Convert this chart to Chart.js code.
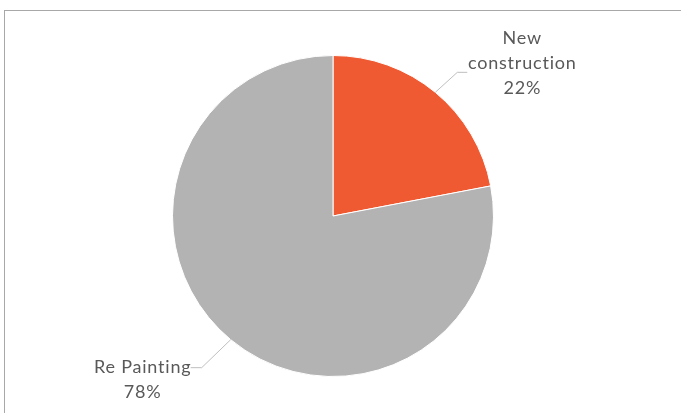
<!DOCTYPE html>
<html>
<head>
<meta charset="utf-8">
<script src="https://cdn.jsdelivr.net/npm/chart.js@4.4.1/dist/chart.umd.min.js"></script>
<style>
  html, body { margin: 0; padding: 0; background: #fff; overflow: hidden; }
  #wrap { position: relative; width: 681px; height: 413px; }
  #frame { position: absolute; left: 4px; top: 10px; width: 700px; height: 440px; border: 1px solid #a8a8a8; box-sizing: border-box; }
  #grafico { position: absolute; left: 0; top: 0; }
</style>
</head>
<body>
<div id="wrap">
  <div id="frame"></div>
  <canvas id="grafico" width="681" height="413"></canvas>
</div>
<script>
const categorias = ['New construction', 'Re Painting'];
const porcentajes = [22, 78];
const colores = ['#F05A32', '#B3B3B3'];

// etiquetas con linea guia, como las de Excel
const etiquetasPie = {
    id: 'etiquetasPie',
    afterDatasetsDraw(chart) {
        const ctx = chart.ctx;
        const arcs = chart.getDatasetMeta(0).data;
        ctx.save();
        ctx.font = '18px Lato';
        ctx.letterSpacing = '0.8px';
        ctx.fillStyle = '#595959';
        ctx.strokeStyle = '#BFBFBF';
        ctx.lineWidth = 1;
        ctx.textAlign = 'center';
        ctx.textBaseline = 'middle';

        arcs.forEach(function (arc, i) {
            const mid = (arc.startAngle + arc.endAngle) / 2;
            const ex = arc.x + Math.cos(mid) * arc.outerRadius;
            const ey = arc.y + Math.sin(mid) * arc.outerRadius;
            const derecha = Math.cos(mid) >= 0;
            const lineas = i === 0
                ? ['New', 'construction', porcentajes[i] + '%']
                : ['Re Painting', porcentajes[i] + '%'];

            let qx, qy, hx, cx, cy;
            if (derecha) {
                qx = ex + 22; qy = ey - 20;
                hx = qx + 10;
                cx = ex + 87; cy = ey - 29;
            } else {
                qx = ex - 29; qy = ey + 28;
                hx = qx - 11;
                cx = ex - 88; cy = ey + 40;
            }
            ctx.beginPath();
            ctx.moveTo(ex, ey);
            ctx.lineTo(qx, qy);
            ctx.lineTo(hx, qy);
            ctx.stroke();

            const alto = 25;
            const y0 = cy - (lineas.length - 1) * alto / 2;
            lineas.forEach(function (t, k) {
                ctx.fillText(t, cx, y0 + k * alto);
            });
        });
        ctx.restore();
    }
};

const ctx = document.getElementById('grafico').getContext('2d');
const grafico = new Chart(ctx, {
    type: 'pie',
    data: {
        labels: categorias,
        datasets: [{
            data: porcentajes,
            backgroundColor: colores,
            borderColor: '#ffffff',
            borderWidth: 1
        }]
    },
    options: {
        responsive: false,
        animation: false,
        layout: {
            padding: { left: 172, right: 187, top: 55, bottom: 36 }
        },
        plugins: {
            legend: { display: false },
            tooltip: { enabled: false }
        }
    },
    plugins: [etiquetasPie]
});
</script>
</body>
</html>
